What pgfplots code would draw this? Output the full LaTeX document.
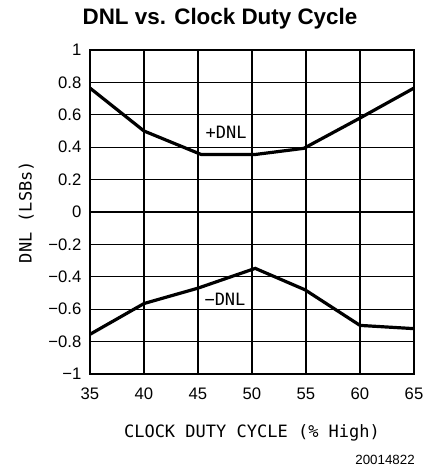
\documentclass[border=0pt]{standalone}
\usepackage{pgfplots}
\pgfplotsset{compat=1.18}
\usepackage{fontspec}
\setmainfont{DejaVu Sans Mono}
\newfontfamily\titlefont{Liberation Sans}
\begin{document}
\begin{tikzpicture}
\useasboundingbox (-67.5pt,-72.75pt) rectangle (256.5pt,280.5pt);
\begin{axis}[
  at={(0,0)}, anchor=south west,
  scale only axis, width=243pt, height=243pt,
  xmin=35, xmax=65, ymin=-1, ymax=1,
  xtick={35,40,...,65},
  ytick={-1,-0.8,-0.6,-0.4,-0.2,0,0.2,0.4,0.6,0.8,1},
  yticklabels={−1,−0.8,−0.6,−0.4,−0.2,0,0.2,0.4,0.6,0.8,1},
  xticklabels={35,40,45,50,55,60,65},
  major tick length=0pt,
  grid=major,
  major grid style={line width=0.9pt, black},
  axis line style={line width=1.4pt},
  tick label style={font=\titlefont\fontsize{12.5}{13}\selectfont},
  xticklabel style={yshift=-7pt},
  yticklabel style={xshift=-3pt},
  xlabel={CLOCK DUTY CYCLE (\% High)},
  ylabel={DNL (LSBs)},
  label style={font=\fontsize{12.75}{13}\selectfont},
  xlabel style={yshift=-11.5pt},
  ylabel style={yshift=4pt},
]
\addplot[line width=2.4pt, black] coordinates {
  (35,0.765) (40,0.50) (45.3,0.355) (50.3,0.355) (54.8,0.393) (60,0.58) (65,0.765)
};
\addplot[line width=2.4pt, black] coordinates {
  (35,-0.755) (40,-0.565) (45,-0.47) (50.3,-0.348) (54.9,-0.48) (60,-0.70) (65,-0.72)
};
\node[fill=white, inner sep=1pt, font=\fontsize{12.75}{13}\selectfont] at (axis cs:47.6,0.49) {+DNL};
\node[fill=white, inner sep=1pt, font=\fontsize{12.75}{13}\selectfont] at (axis cs:47.5,-0.537) {−DNL};
\end{axis}
\node[font=\titlefont\bfseries\fontsize{16.8}{18}\selectfont] at (97.5pt,266.25pt) {DNL vs. Clock Duty Cycle};
\node[anchor=east, inner sep=0pt, font=\titlefont\fontsize{10}{11}\selectfont] at (243.75pt,-64.5pt) {20014822};
\end{tikzpicture}
\end{document}
